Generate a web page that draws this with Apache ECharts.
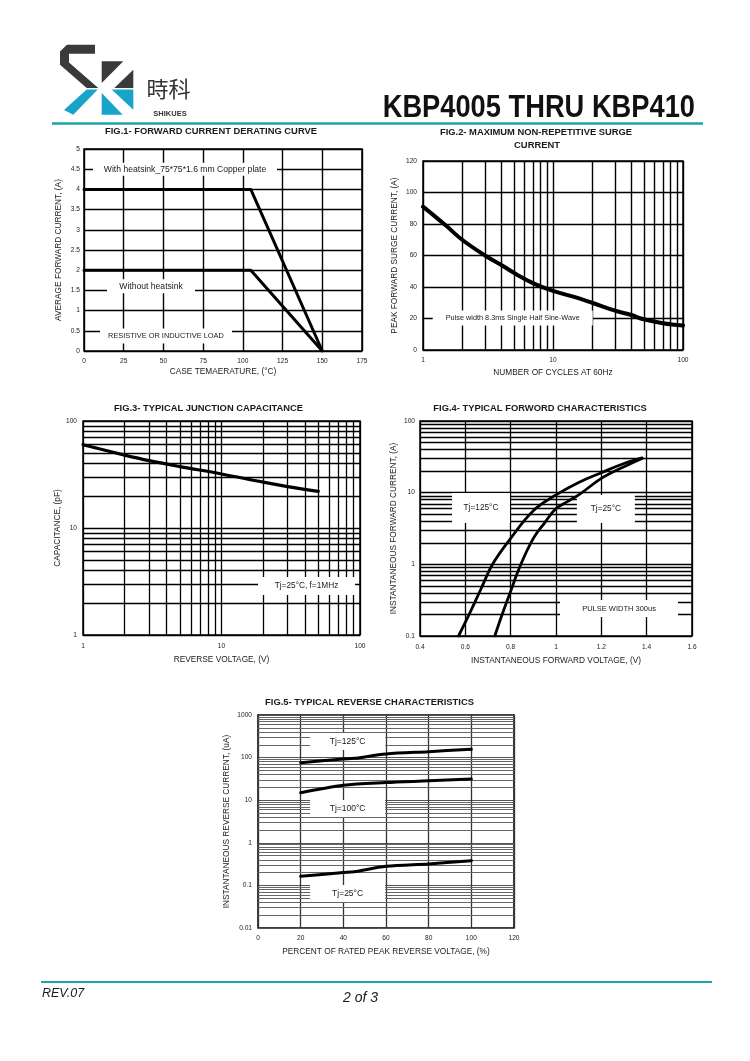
<!DOCTYPE html>
<html>
<head>
<meta charset="utf-8">
<script src="https://cdn.jsdelivr.net/npm/echarts@6/dist/echarts.min.js"></script>
<style>
html,body{margin:0;padding:0;background:#fff;}
#c{width:750px;height:1061px;}
</style>
</head>
<body>
<div id="c"></div>
<script>
// ---------------- DATA ----------------
// Fig.1 forward current derating
const fig1Temp = [0, 105, 150];
const fig1WithHeatsink = [4, 4, 0];
const fig1WithoutHeatsink = [2, 2, 0];

// Fig.2 surge current
const fig2Cycles = [1, 1.5, 2, 3, 4, 5, 7, 10, 15, 20, 30, 40, 50, 70, 100];
const fig2Current = [91, 79, 70, 60, 54, 49, 42.5, 37.5, 33.4, 30, 25, 22.2, 19.5, 17, 15.5];

// Fig.3 junction capacitance
const fig3Voltage = [1, 2, 3, 5, 10, 20, 30, 50];
const fig3Capacitance = [60, 48, 42.6, 37.5, 32, 26.8, 24.4, 22];

// Fig.4 forward characteristics
const fig4V125 = [0.57, 0.62, 0.67, 0.72, 0.8, 0.9, 1.0, 1.1, 1.2, 1.3, 1.38];
const fig4I125 = [0.1, 0.21, 0.46, 1.0, 2.3, 5.6, 9.3, 13.9, 19, 25.5, 30.5];
const fig4V25 = [0.73, 0.76, 0.8, 0.84, 0.9, 0.95, 1.0, 1.05, 1.1, 1.2, 1.3, 1.38];
const fig4I25 = [0.1, 0.19, 0.42, 0.92, 2.3, 3.8, 6.0, 7.5, 9.3, 15.8, 23, 30];

// Fig.5 reverse characteristics
const fig5Pct125 = [20, 40, 45, 60, 80, 100];
const fig5I125 = [76, 93, 96, 122, 138, 157];
const fig5Pct100 = [20, 40, 60, 80, 100];
const fig5I100 = [15, 22.5, 26, 28.5, 31.5];
const fig5Pct25 = [20, 40, 45, 60, 80, 100];
const fig5I25 = [0.163, 0.2, 0.21, 0.28, 0.32, 0.38];

// Log-axis minor grid lines (tick values)
const logMinor1to100 = [2, 3, 4, 5, 6, 7, 8, 9, 20, 30, 40, 50, 60, 70, 80, 90];
const logMinor01to100 = [0.2, 0.3, 0.4, 0.5, 0.6, 0.7, 0.8, 0.9, 2, 3, 4, 5, 6, 7, 8, 9, 20, 30, 40, 50, 60, 70, 80, 90];
const logMinor001to1000 = [0.02, 0.03, 0.04, 0.05, 0.06, 0.07, 0.08, 0.09,
  0.2, 0.3, 0.4, 0.5, 0.6, 0.7, 0.8, 0.9, 2, 3, 4, 5, 6, 7, 8, 9,
  20, 30, 40, 50, 60, 70, 80, 90, 200, 300, 400, 500, 600, 700, 800, 900];

// Annotation texts with anchor values (data units)
const fig1Notes = [
  { text: 'With heatsink_75*75*1.6 mm Copper plate', x: 63.6, y: 4.5 },
  { text: 'Without heatsink', x: 42.2, y: 1.6 },
  { text: 'RESISTIVE OR INDUCTIVE LOAD', x: 51.6, y: 0.37 }
];
const fig2Notes = [{ text: 'Pulse width 8.3ms Single Half Sine-Wave', x: 4.9, y: 20.3 }];
const fig3Notes = [{ text: 'Tj=25°C, f=1MHz', x: 41.1, y: 2.87 }];
const fig4Notes = [
  { text: 'Tj=125°C', x: 0.669, y: 6.1 },
  { text: 'Tj=25°C', x: 1.22, y: 5.9 },
  { text: 'PULSE WIDTH 300us', x: 1.278, y: 0.242 }
];
const fig5Notes = [
  { text: 'Tj=125°C', x: 42, y: 239 },
  { text: 'Tj=100°C', x: 42, y: 6.38 },
  { text: 'Tj=25°C', x: 42, y: 0.0645 }
];

// ---------------- CHART ----------------
const FONT = "'Liberation Sans', Arial, Helvetica, sans-serif";
const TXT = '#1a1a1a';
const zip = (a, b) => a.map((v, i) => [v, b[i]]);
const plainNum = v => String(+Number(v).toPrecision(6));

const grids = [
  { left: 84, top: 149, width: 278, height: 202 },
  { left: 423, top: 161, width: 260, height: 189 },
  { left: 83, top: 421, width: 277, height: 214 },
  { left: 420, top: 421, width: 272, height: 215 },
  { left: 258, top: 715, width: 256, height: 213 }
].map(g => Object.assign(g, { show: true, borderColor: '#000', borderWidth: 1.5, backgroundColor: 'rgba(0,0,0,0)' }));

function axis(gi, isY, name, gap, extra, splitColor, splitW, labelMargin) {
  return Object.assign({
    gridIndex: gi,
    name: name,
    nameLocation: 'middle',
    nameGap: gap,
    nameRotate: isY ? 90 : 0,
    nameMoveOverlap: false,
    nameTextStyle: { fontSize: 8.3, color: TXT, fontFamily: FONT },
    axisLine: { show: false },
    axisTick: { show: false },
    axisLabel: { fontSize: 6.6, color: TXT, fontFamily: FONT, margin: labelMargin, hideOverlap: false, formatter: plainNum },
    splitLine: { show: true, lineStyle: { color: splitColor || '#000', width: splitW || 1.3 } },
    minorTick: { show: false },
    minorSplitLine: { show: false }
  }, extra);
}
const lin = (min, max, interval) => ({ type: 'value', min, max, interval });
const lg = (min, max) => ({ type: 'log', logBase: 10, min, max });

const xAxes = [
  axis(0, false, 'CASE TEMAERATURE, (°C)', 17, lin(0, 175, 25), '#000', 1.4, 7),
  axis(1, false, 'NUMBER OF CYCLES AT 60Hz', 19, lg(1, 100), '#000', 1.4, 7),
  axis(2, false, 'REVERSE VOLTAGE, (V)', 21, lg(1, 100), '#000', 1.3, 8),
  axis(3, false, 'INSTANTANEOUS FORWARD VOLTAGE, (V)', 21, lin(0.4, 1.6, 0.2), '#000', 1.3, 8),
  axis(4, false, 'PERCENT OF RATED PEAK REVERSE VOLTAGE, (%)', 20, lin(0, 120, 20), '#333', 1.3, 7)
];
const yAxes = [
  axis(0, true, 'AVERAGE FORWARD CURRENT, (A)', 21, lin(0, 5, 0.5), '#000', 1.4, 4),
  axis(1, true, 'PEAK FORWARD SURGE CURRENT, (A)', 24, lin(0, 120, 20), '#000', 1.4, 6),
  axis(2, true, 'CAPACITANCE, (pF)', 21, lg(1, 100), '#000', 1.3, 6),
  axis(3, true, 'INSTANTANEOUS FORWARD CURRENT, (A)', 22, lg(0.1, 100), '#000', 1.3, 5),
  axis(4, true, 'INSTANTANEOUS REVERSE CURRENT, (uA)', 27, lg(0.01, 1000), '#555', 1.1, 6)
];

function gridLines(gi, xs, ys, color, width) {
  return {
    type: 'line', xAxisIndex: gi, yAxisIndex: gi, data: [], silent: true, z: 1,
    markLine: {
      z: 1, zlevel: 0,
      silent: true, animation: false, symbol: ['none', 'none'],
      label: { show: false },
      emphasis: { disabled: true },
      lineStyle: { color: color, width: width, type: 'solid' },
      data: xs.map(v => ({ xAxis: v })).concat(ys.map(v => ({ yAxis: v })))
    }
  };
}
function curve(gi, xs, ys, width, smooth) {
  return {
    type: 'line', xAxisIndex: gi, yAxisIndex: gi, data: zip(xs, ys),
    symbol: 'none', showSymbol: false, smooth: smooth, z: 4, silent: true,
    lineStyle: { color: '#000', width: width, cap: 'round', join: 'round' }
  };
}
function notes(gi, list, boxes, fontSizes) {
  return {
    type: 'scatter', xAxisIndex: gi, yAxisIndex: gi, z: 3, silent: true,
    symbol: 'rect',
    data: list.map((n, i) => ({
      value: [n.x, n.y],
      symbolSize: boxes[i],
      label: { formatter: n.text, fontSize: fontSizes[i] }
    })),
    itemStyle: { color: '#fff', opacity: 1 },
    label: { show: true, position: 'inside', color: TXT, fontFamily: FONT }
  };
}

const series = [
  // Fig 1
  curve(0, fig1Temp, fig1WithHeatsink, 3, false),
  curve(0, fig1Temp, fig1WithoutHeatsink, 3, false),
  notes(0, fig1Notes, [[184, 13], [88, 14], [132, 15]], [8.6, 8.6, 7.4]),
  // Fig 2
  gridLines(1, logMinor1to100, [], '#000', 1.4),
  curve(1, fig2Cycles, fig2Current, 4, 0.4),
  notes(1, fig2Notes, [[160, 15]], [7.3]),
  // Fig 3
  gridLines(2, logMinor1to100, logMinor1to100, '#000', 1.3),
  curve(2, fig3Voltage, fig3Capacitance, 3.2, 0.4),
  notes(2, fig3Notes, [[97, 18]], [8.3]),
  // Fig 4
  gridLines(3, [], logMinor01to100, '#000', 1.3),
  curve(3, fig4V125, fig4I125, 2.8, 0.4),
  curve(3, fig4V25, fig4I25, 2.8, 0.4),
  notes(3, fig4Notes, [[58, 30], [58, 28], [118, 17]], [8.3, 8.3, 7.5]),
  // Fig 5
  gridLines(4, [], logMinor001to1000, '#666', 1),
  curve(4, fig5Pct125, fig5I125, 3, 0.3),
  curve(4, fig5Pct100, fig5I100, 3, 0.3),
  curve(4, fig5Pct25, fig5I25, 3, 0.3),
  notes(4, fig5Notes, [[75, 17], [75, 17], [75, 17]], [8.5, 8.5, 8.5])
];

function txt(x, y, text, size, opts) {
  return Object.assign({
    type: 'text', x: x, y: y, z: 20, silent: true,
    style: Object.assign({
      text: text, fill: TXT, fontSize: size, fontFamily: FONT,
      textAlign: 'center', textVerticalAlign: 'middle'
    }, (opts && opts.style) || {})
  }, (opts && opts.el) || {});
}
const DARK = '#3a3a3a', BLUE = '#18a3c9', TEAL = '#1ea3a6';

const graphic = [
  // logo
  { type: 'polygon', silent: true, shape: { points: [[95, 44.7], [67, 44.7], [60, 51.5], [60, 64.7], [86.7, 88], [98.3, 88], [69, 62.5], [69, 53.7], [95, 53.7]] }, style: { fill: DARK } },
  { type: 'polygon', silent: true, shape: { points: [[86.7, 89.5], [97.7, 89.5], [73.3, 114.7], [64, 110]] }, style: { fill: BLUE } },
  { type: 'polygon', silent: true, shape: { points: [[101.7, 61.3], [123.3, 61.3], [101.7, 83]] }, style: { fill: DARK } },
  { type: 'polygon', silent: true, shape: { points: [[133.3, 69.7], [133.3, 88], [114.3, 88]] }, style: { fill: DARK } },
  { type: 'polygon', silent: true, shape: { points: [[101.7, 93], [101.7, 114.7], [122.7, 114.7]] }, style: { fill: BLUE } },
  { type: 'polygon', silent: true, shape: { points: [[111.7, 89.5], [133.3, 89.5], [133.3, 109.7]] }, style: { fill: BLUE } },
  txt(168.5, 89, '時科', 22, { style: { fontFamily: "'Noto Sans CJK TC','Noto Sans CJK SC',sans-serif", fill: '#333' } }),
  txt(170, 113.5, 'SHIKUES', 7.5, { style: { fontWeight: 'bold', fill: '#333' } }),
  // main title
  txt(695, 108.5, 'KBP4005 THRU KBP410', 31, { style: { fontWeight: 'bold', textAlign: 'right', fill: '#111' }, el: { scaleX: 0.88, originX: 0, originY: 0 } }),
  // header / footer lines
  { type: 'line', silent: true, shape: { x1: 52, y1: 123.5, x2: 703, y2: 123.5 }, style: { stroke: TEAL, lineWidth: 2.5 } },
  { type: 'line', silent: true, shape: { x1: 41, y1: 982, x2: 712, y2: 982 }, style: { stroke: TEAL, lineWidth: 2.2 } },
  txt(42, 994, 'REV.07', 12.5, { style: { fontStyle: 'italic', textAlign: 'left' } }),
  txt(360.5, 998, '2 of 3', 14, { style: { fontStyle: 'italic' } }),
  // figure titles
  txt(211, 131.5, 'FIG.1- FORWARD CURRENT DERATING CURVE', 9.4, { style: { fontWeight: 'bold' } }),
  txt(536, 132, 'FIG.2- MAXIMUM NON-REPETITIVE SURGE', 9.4, { style: { fontWeight: 'bold' } }),
  txt(537, 145.7, 'CURRENT', 9.4, { style: { fontWeight: 'bold' } }),
  txt(208.5, 408.3, 'FIG.3- TYPICAL JUNCTION CAPACITANCE', 9.4, { style: { fontWeight: 'bold' } }),
  txt(540, 408.5, 'FIG.4- TYPICAL FORWORD CHARACTERISTICS', 9.4, { style: { fontWeight: 'bold' } }),
  txt(369.5, 702.7, 'FIG.5- TYPICAL REVERSE CHARACTERISTICS', 9.4, { style: { fontWeight: 'bold' } })
];

const chart = echarts.init(document.getElementById('c'), null, { renderer: 'canvas' });
chart.setOption({
  animation: false,
  backgroundColor: '#fff',
  textStyle: { fontFamily: FONT },
  grid: grids,
  xAxis: xAxes,
  yAxis: yAxes,
  series: series,
  graphic: graphic
});
</script>
</body>
</html>
